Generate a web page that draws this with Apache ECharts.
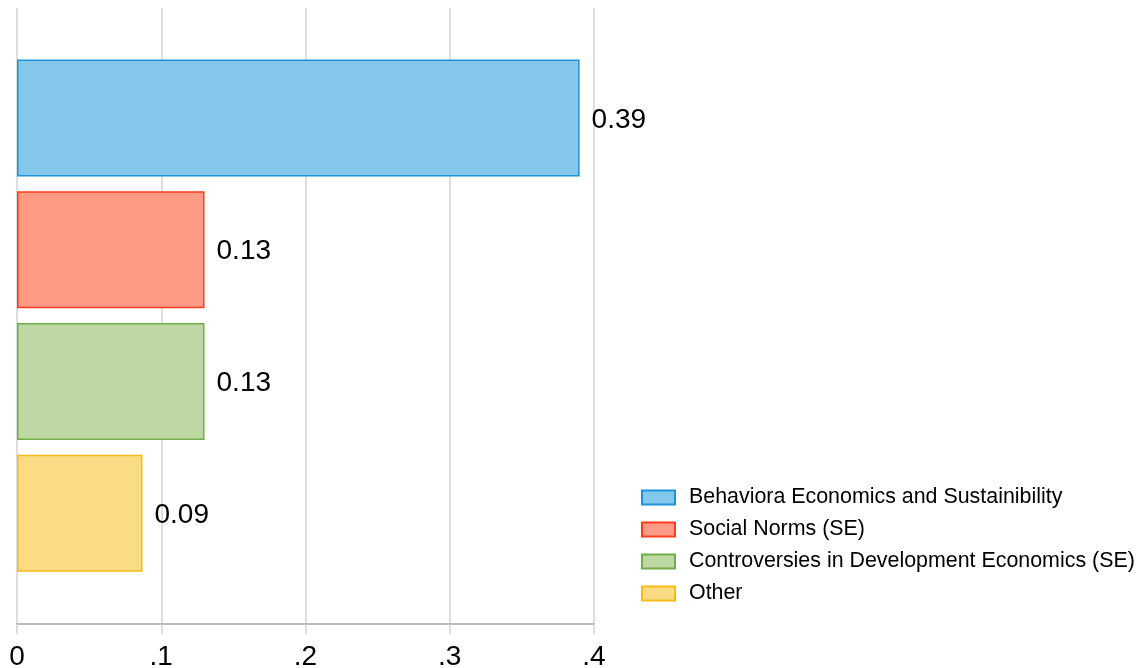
<!DOCTYPE html>
<html>
<head>
<meta charset="utf-8">
<script src="https://cdn.jsdelivr.net/npm/echarts@6/dist/echarts.min.js"></script>
<style>
html,body{margin:0;padding:0;background:#fff;}
#chart{width:1147px;height:668px;}
</style>
</head>
<body>
<div id="chart"></div>
<script>
var categories = ["Behaviora Economics and Sustainibility", "Social Norms (SE)", "Controversies in Development Economics (SE)", "Other"];
var values = [0.39, 0.13, 0.13, 0.087];
var tickValues = [0, 0.1, 0.2, 0.3, 0.4];
var tickLabels = ["0", ".1", ".2", ".3", ".4"];
var fills = ["#83c7ea", "#ff9a87", "#bdd8a3", "#fbdc84"];
var borders = ["#1d93d8", "#ff3c1c", "#72ae48", "#f7bb14"];

var FONT = "Liberation Sans, Arial, Helvetica, sans-serif";

var series = categories.map(function (name, i) {
  var data = categories.map(function (c, j) { return j === i ? values[i] : '-'; });
  return {
    name: name,
    type: 'bar',
    xAxisIndex: 1,
    yAxisIndex: 1,
    barWidth: 117,
    barGap: '-100%',
    data: data,
    itemStyle: { color: fills[i], borderColor: borders[i], borderWidth: 1.5 },
    label: {
      show: true,
      position: 'right',
      distance: 12,
      offset: [0, 2],
      fontSize: 28,
      fontFamily: FONT,
      color: '#000',
      formatter: function (p) { return Number(p.value).toFixed(2); }
    },
    emphasis: { disabled: true },
    animation: false
  };
});

var chart = echarts.init(document.getElementById('chart'), null, { renderer: 'canvas' });
chart.setOption({
  backgroundColor: '#fff',
  animation: false,
  textStyle: { fontFamily: FONT },
  grid: [
    { left: 17, right: 553, top: 8, bottom: 44, outerBoundsMode: 'none', containLabel: false },
    { left: 17, right: 553, top: 52, bottom: 89, outerBoundsMode: 'none', containLabel: false }
  ],
  xAxis: [
    {
      gridIndex: 0, type: 'value', min: 0, max: 0.4, interval: 0.1,
      axisLine: { show: true, lineStyle: { color: '#a8a8a8', width: 1.5 } },
      axisTick: { show: true, length: 10, lineStyle: { color: '#d4d4d4', width: 1.5 } },
      splitLine: { show: true, lineStyle: { color: '#d4d4d4', width: 1.5 } },
      axisLabel: {
        fontSize: 28, color: '#000', fontFamily: FONT, margin: 19,
        formatter: function (v) {
          var idx = tickValues.findIndex(function (t) { return Math.abs(t - v) < 1e-9; });
          return idx >= 0 ? tickLabels[idx] : '';
        }
      }
    },
    { gridIndex: 1, type: 'value', min: 0, max: 0.4, show: false, splitLine: { show: false } }
  ],
  yAxis: [
    { gridIndex: 0, type: 'value', min: 0, max: 1, show: false, splitLine: { show: false } },
    { gridIndex: 1, type: 'category', data: categories, inverse: true, show: false }
  ],
  legend: {
    orient: 'vertical',
    left: 641,
    top: 487,
    itemWidth: 33,
    itemHeight: 14,
    itemGap: 11,
    icon: 'rect',
    padding: 0,
    selectedMode: false,
    textStyle: { fontSize: 21.4, color: '#000', fontFamily: FONT, padding: [0, 0, 0, 9] },
    data: categories
  },
  series: series
});
</script>
</body>
</html>
